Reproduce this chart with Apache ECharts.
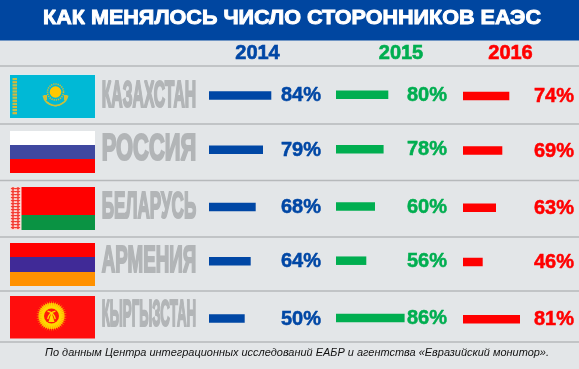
<!DOCTYPE html>
<html><head><meta charset="utf-8">
<style>html,body{margin:0;padding:0;background:#e3e6e8}#c{width:579px;height:369px}</style>
<script src="https://cdn.jsdelivr.net/npm/echarts@6/dist/echarts.min.js"></script>
</head><body><div id="c"></div>
<script>
const titleText = 'КАК МЕНЯЛОСЬ ЧИСЛО СТОРОННИКОВ ЕАЭС';
const footerText = 'По данным Центра интеграционных исследований ЕАБР и агентства «Евразийский монитор».';
const categories = ['КАЗАХСТАН','РОССИЯ','БЕЛАРУСЬ','АРМЕНИЯ','КЫРГЫЗСТАН'];
const years = ['2014','2015','2016'];
// Percentages printed next to the bars
const values2014 = [84,79,68,64,50];
const values2015 = [80,78,60,56,86];
const values2016 = [74,69,63,46,81];
// Bar lengths (the source's bars are not proportional to the printed figures)
const barLen2014 = [62.3,54,46.7,41.7,35.7];
const barLen2015 = [52.3,47.6,39,30.3,68.6];
const barLen2016 = [46.3,39.3,33,19.7,57];

const FONT = '"Liberation Sans", Arial, sans-serif';
const BLUE='#0047a5', GREEN='#00ae50', RED='#ff0000', GRAY='#b2b5b7';
const colours=[BLUE,GREEN,RED];
const colLeft=[209,336,463], colOffset=[0,-0.6,0.7], rowMid=[95.4,149.8,207.1,261.3,318.6];
const yearMid=[257.5,401,510.5];
const labelDx=[72,71,71];
const GW=110,BH=8.5;

const meas=document.createElement('canvas').getContext('2d');
function sx(text,font,target){meas.font=font;return target/meas.measureText(text).width;}

function fitText(text,x,y,weight,size,target,fill,stroke,lw,italic){
  const f=(italic?'italic ':'')+weight+' '+size+'px "Liberation Sans"';
  return {type:'text',x:x,y:y,scaleX:sx(text,f,target),silent:true,z:10,
    style:{text:text,x:0,y:0,font:f,fill:fill,stroke:stroke||null,lineWidth:lw||0,textAlign:'left',textVerticalAlign:'middle'}};
}
const rect=(x,y,w,h,c)=>({type:'rect',silent:true,z:5,shape:{x,y,width:w,height:h},style:{fill:c}});
const g=[];
g.push(rect(0,0,579,40.6,'#0046a0'));
[66,124,180.5,237,291,342].forEach(y=>g.push(rect(0,y-0.7,579,1.4,'#b6b9bb')));

// flags (decoration)
const FX=10,FW=85;
// Kazakhstan
g.push(rect(FX-0.5,74.5,FW+1,44,'#d6eef3'));
g.push(rect(FX,75,FW,43,'#00b9d6'));
for(let i=0;i<12;i++){g.push(rect(12.5,78+i*3.1,4.5,2.2,i%2?'#d6b73a':'#c2c04a'));}
g.push({type:'circle',silent:true,z:6,shape:{cx:55.5,cy:92,r:5.8},style:{fill:'#ffc800'}});
g.push({type:'circle',silent:true,z:6,shape:{cx:55.5,cy:92,r:8},style:{fill:'none',stroke:'#d9bd2c',lineWidth:1.6,lineDash:[1.2,1]}});
g.push({type:'arc',silent:true,z:6,shape:{cx:55.5,cy:93,r:12.5,startAngle:0.2,endAngle:Math.PI-0.2},style:{fill:'none',stroke:'#c9c03c',lineWidth:1.6}});
g.push({type:'arc',silent:true,z:6,shape:{cx:55.5,cy:96,r:10,startAngle:0.7,endAngle:Math.PI-0.7},style:{fill:'none',stroke:'#c9c03c',lineWidth:1.2}});
g.push(rect(44,95,3,5,'#d0bd38'));g.push(rect(64,95,3,5,'#d0bd38'));
// Russia
g.push(rect(FX,131,FW,14,'#ffffff'));g.push(rect(FX,145,FW,14,'#3f48a0'));g.push(rect(FX,159,FW,14,'#ff0000'));
// Belarus
g.push(rect(FX,187,FW,28.5,'#ff0000'));g.push(rect(FX,215,FW,15,'#0a9343'));
g.push(rect(FX,187,11.5,43,'#fbdcd8'));
for(let i=0;i<14;i++){
  const cy=188.6+i*3;
  [13,18].forEach((c)=>{
    g.push({type:'polygon',silent:true,z:6,shape:{points:[[c,cy-1.7],[c+2.4,cy],[c,cy+1.7],[c-2.4,cy]]},style:{fill:'#f4392f'}});});
  g.push(rect(15,cy-0.7,1.1,1.4,'#f4392f'));
}
// Armenia
g.push(rect(FX,243,FW,14.5,'#ff0000'));g.push(rect(FX,257,FW,15,'#402a97'));g.push(rect(FX,272,FW,14,'#ff9100'));
// Kyrgyzstan
g.push(rect(FX,296,FW,42.5,'#ff0d0d'));
const KX=51.5,KY=316;
g.push({type:'circle',silent:true,z:6,shape:{cx:KX,cy:KY,r:13},style:{fill:'#ffa800'}});
for(let a=0;a<40;a++){const t=a/40*2*Math.PI;
  g.push({type:'polygon',silent:true,z:6,shape:{points:[[KX+15.5*Math.cos(t),KY+15.5*Math.sin(t)],[KX+9*Math.cos(t-0.1),KY+9*Math.sin(t-0.1)],[KX+9*Math.cos(t+0.1),KY+9*Math.sin(t+0.1)]]},style:{fill:'#ffd800'}});}
g.push({type:'circle',silent:true,z:7,shape:{cx:KX,cy:KY,r:10},style:{fill:'#ffd800'}});
g.push({type:'circle',silent:true,z:7,shape:{cx:KX,cy:KY,r:7.5},style:{fill:'#ff1a0a'}});
g.push({type:'arc',silent:true,z:8,shape:{cx:KX-6,cy:KY+5,r:10,startAngle:-Math.PI/2+0.2,endAngle:-0.2},style:{fill:'none',stroke:'#ffd800',lineWidth:1.3}});
g.push({type:'arc',silent:true,z:8,shape:{cx:KX+6,cy:KY+5,r:10,startAngle:Math.PI+0.2,endAngle:-Math.PI/2-0.2},style:{fill:'none',stroke:'#ffd800',lineWidth:1.3}});
g.push({type:'polygon',silent:true,z:8,shape:{points:[[KX,KY-4],[KX-3,KY+6],[KX+3,KY+6]]},style:{fill:'#ffd800'}});

// title, footer, years, names
g.push(fitText(titleText,43,18,'bold',20,498,'#ffffff','#ffffff',0.9));
g.push(fitText(footerText,45,353,'normal',11,504,'#111111',null,0,true));
years.forEach((y,i)=>g.push({type:'text',x:yearMid[i],y:53.5,silent:true,z:10,style:{text:y,x:0,y:0,font:'bold 20px "Liberation Sans"',fill:colours[i],stroke:colours[i],lineWidth:0.6,textAlign:'center',textVerticalAlign:'middle'}}));
categories.forEach((c,i)=>g.push(fitText(c,101.7,[97,150,208,262.5,316][i],'bold',36,94.5,GRAY,GRAY,2.2)));

const cols=[[values2014,barLen2014],[values2015,barLen2015],[values2016,barLen2016]];
const grid=[],xAxis=[],yAxis=[],series=[];
cols.forEach(([vals,lens],c)=>{
  categories.forEach((name,r)=>{
    const idx=grid.length;
    grid.push({left:colLeft[c],width:GW,top:rowMid[r]+colOffset[c]-BH/2,height:BH});
    xAxis.push({gridIndex:idx,type:'value',min:0,max:GW,show:false});
    yAxis.push({gridIndex:idx,type:'category',data:[name],show:false});
    series.push({type:'bar',name:years[c],xAxisIndex:idx,yAxisIndex:idx,data:[lens[r]],barWidth:'100%',silent:true,
      itemStyle:{color:colours[c]},
      label:{show:true,position:[labelDx[c],'50%'],align:'left',verticalAlign:'middle',offset:[0,0.5],
        formatter:()=>vals[r]+'%',color:colours[c],fontFamily:FONT,fontWeight:'bold',fontSize:20,
        textBorderColor:colours[c],textBorderWidth:0.5}});
  });
});
const chart=echarts.init(document.getElementById('c'),null,{renderer:'canvas'});
chart.setOption({animation:false,backgroundColor:'#e3e6e8',grid,xAxis,yAxis,series,graphic:{elements:g}});
</script></body></html>
